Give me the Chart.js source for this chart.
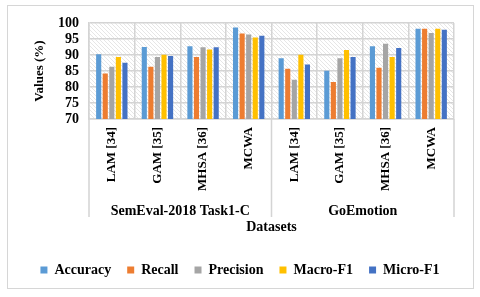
<!DOCTYPE html>
<html><head><meta charset="utf-8">
<script src="https://cdn.jsdelivr.net/npm/chart.js@4.4.0/dist/chart.umd.min.js"></script>
<style>
html,body{margin:0;padding:0;background:#fff;}
#wrap{position:relative;width:480px;height:297px;overflow:hidden;}
#frame{position:absolute;left:7px;top:5px;width:465px;height:282px;border:1.5px solid #d6d6d6;}
canvas{position:absolute;left:0;top:0;}
</style></head><body>
<div id="wrap"><div id="frame"></div><canvas id="c" width="480" height="297"></canvas></div>
<script>
const categories = ['LAM [34]','GAM [35]','MHSA [36]','MCWA','LAM [34]','GAM [35]','MHSA [36]','MCWA'];
const datasetGroups = ['SemEval-2018 Task1-C','GoEmotion'];
const accuracy  = [90.2, 92.5, 92.7, 98.6, 89.0, 85.1, 92.7, 98.2];
const recall    = [84.2, 86.3, 89.4, 96.7, 85.7, 81.6, 86.0, 98.2];
const precision = [86.3, 89.4, 92.4, 96.4, 82.3, 89.0, 93.5, 96.9];
const macroF1   = [89.4, 90.1, 91.7, 95.5, 90.1, 91.6, 89.4, 98.2];
const microF1   = [87.6, 89.7, 92.4, 96.0, 87.0, 89.4, 92.2, 97.9];
const yTicks = [70, 75, 80, 85, 90, 95, 100];

const FONT = "'Liberation Serif','Times New Roman',serif";
const GRID = '#d4d4d4';

const hatch = document.createElement('canvas');
hatch.width = 4; hatch.height = 4;
(function(){
  const g = hatch.getContext('2d');
  g.fillStyle = '#ffffff'; g.fillRect(0,0,4,4);
  g.fillStyle = '#e6e6e6';
  for (let i = 0; i < 4; i++) g.fillRect(i, i, 1, 1);
})();

const decor = {
  id: 'decor',
  beforeDraw(chart) {
    const {ctx, chartArea: a} = chart;
    ctx.save();
    ctx.fillStyle = ctx.createPattern(hatch, 'repeat');
    ctx.fillRect(a.left, a.top, a.right - a.left, a.bottom - a.top);
    ctx.restore();
  },
  afterDraw(chart) {
    const {ctx, chartArea: a} = chart;
    const x = chart.scales.x, x2 = chart.scales.x2;
    const half = (x.getPixelForValue(1) - x.getPixelForValue(0)) / 2;
    const xs = [x.getPixelForValue(0) - half,
                (x.getPixelForValue(3) + x.getPixelForValue(4)) / 2,
                x.getPixelForValue(7) + half];
    ctx.save();
    ctx.strokeStyle = GRID; ctx.lineWidth = 1.5;
    ctx.beginPath();
    xs.forEach(px => { ctx.moveTo(px, a.bottom); ctx.lineTo(px, x2.top + 25); });
    ctx.stroke();
    ctx.restore();
  }
};

const mk = (label, data, color) => ({label, data, backgroundColor: color, borderWidth: 0,
  categoryPercentage: 0.72, barPercentage: 0.78});

new Chart(document.getElementById('c'), {
  type: 'bar',
  data: {
    labels: categories,
    datasets: [
      mk('Accuracy', accuracy, '#5B9BD5'),
      mk('Recall', recall, '#ED7D31'),
      mk('Precision', precision, '#A5A5A5'),
      mk('Macro-F1', macroF1, '#FFC000'),
      mk('Micro-F1', microF1, '#4472C4')
    ]
  },
  options: {
    responsive: false,
    animation: false,
    layout: {padding: {left: 10, right: 10, top: 23, bottom: 10}},
    plugins: {
      tooltip: {enabled: false},
      legend: {
        position: 'bottom',
        labels: {boxWidth: 7, boxHeight: 7, padding: 16, color: '#000',
          font: {family: FONT, size: 14, weight: 'bold'}}
      }
    },
    scales: {
      y: {
        min: 70, max: 100,
        afterBuildTicks: s => { s.ticks = yTicks.map(v => ({value: v})); },
        afterFit: s => { s.width = 79; },
        grid: {color: GRID, lineWidth: 1.5, drawTicks: false},
        border: {color: GRID, width: 1.5},
        ticks: {padding: 10, autoSkip: false, color: '#000', font: {family: FONT, size: 14, weight: 'bold'}},
        title: {display: true, text: 'Values (%)', color: '#000', padding: {top: 22, bottom: 4},
          font: {family: FONT, size: 13, weight: 'bold'}}
      },
      yR: {
        position: 'right',
        afterFit: s => { s.width = 16; },
        grid: {display: false},
        border: {display: false},
        ticks: {display: false}
      },
      x: {
        position: 'bottom',
        afterFit: s => { s.height = 73; },
        grid: {color: GRID, lineWidth: 1.5, drawTicks: false, offset: true},
        border: {color: GRID, width: 1.5},
        ticks: {padding: 8, minRotation: 90, maxRotation: 90, autoSkip: false, color: '#000',
          font: {family: FONT, size: 13, weight: 'bold'}}
      },
      x2: {
        type: 'category',
        position: 'bottom',
        labels: datasetGroups,
        afterFit: s => { s.height = 55; },
        grid: {display: false},
        border: {display: false},
        ticks: {padding: 3, color: '#000', font: {family: FONT, size: 14, weight: 'bold'}},
        title: {display: true, text: 'Datasets', color: '#000', padding: {top: 0, bottom: 11},
          font: {family: FONT, size: 14, weight: 'bold'}}
      }
    }
  },
  plugins: [decor]
});
</script>
</body></html>
